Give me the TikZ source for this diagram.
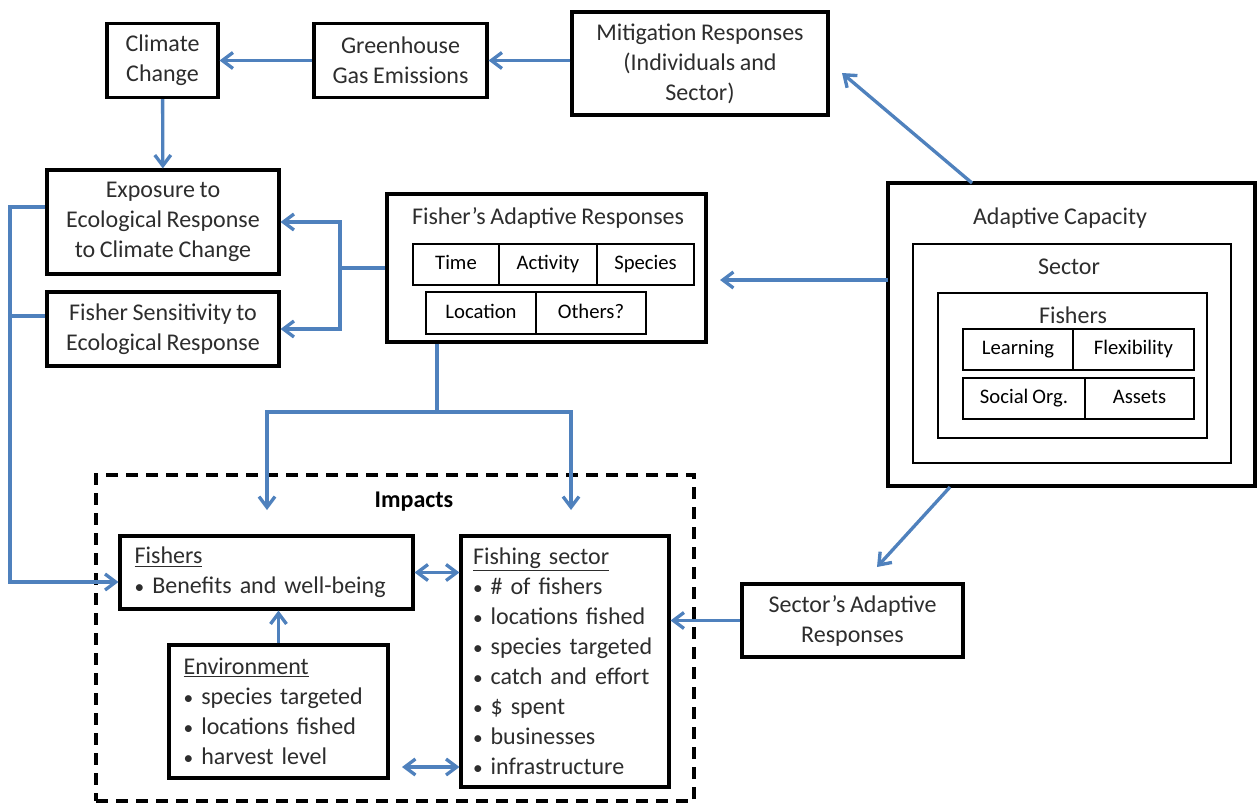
\documentclass[tikz,border=0pt]{standalone}
\usepackage{fontspec}
\setmainfont{Carlito}[WordSpace=0.85]
\usepackage{xcolor}
\usetikzlibrary{arrows.meta}
\definecolor{linkblue}{RGB}{79,129,189}
\definecolor{txtgray}{RGB}{45,45,45}
\newcommand{\itembul}{{\fontsize{14.5}{14.5}\selectfont\textbullet}\ }
\tikzset{
  mainbox/.style={draw=black,line width=2.3pt,align=center,inner sep=0pt,
    font=\fontsize{18}{22.5}\selectfont,text=txtgray},
  thinbox/.style={draw=black,line width=1.2pt,inner sep=0pt},
  cellbox/.style={thinbox,font=\fontsize{15.5}{18}\selectfont,text=black,
    text height=11pt,text depth=3pt},
  titletext/.style={inner sep=0pt,font=\fontsize{18}{22.5}\selectfont,text=txtgray},
  listbox/.style={mainbox,align=left,inner ysep=0pt},
  link/.style={draw=linkblue,line width=2.5pt,-{Straight Barb[length=8pt,width=12pt]}},
  link2/.style={link,{Straight Barb[length=8pt,width=12pt]}-{Straight Barb[length=8pt,width=12pt]}},
}
\begin{document}
\begin{tikzpicture}[x=0.75pt,y=0.75pt,yscale=-1,xscale=1]
\useasboundingbox (0,0) rectangle (1257,803);

%Shape: Rectangle top row
\node[mainbox,minimum width=83.25pt,minimum height=55.5pt] (clim) at (162.5,60.5) {Climate\\Change};
\node[mainbox,minimum width=129.75pt,minimum height=55.5pt] (ghg) at (400.5,60.5) {Greenhouse\\Gas Emissions};
\node[mainbox,minimum width=192pt,minimum height=77.25pt] (mitig) at (700,63.5) {Mitigation Responses\\(Individuals and\\Sector)};
%Shape: Rectangle left column
\node[mainbox,minimum width=174pt,minimum height=78pt] (expo) at (163,222) {Exposure to\\Ecological Response\\to Climate Change};
\node[mainbox,minimum width=174pt,minimum height=55.5pt] (sens) at (163,329) {Fisher Sensitivity to\\Ecological Response};

%Shape: Fisher's adaptive responses
\node[mainbox,minimum width=239.25pt,minimum height=111pt] (far) at (546.5,268) {};
\node[titletext] (fartitle) at (548,218) {Fisher’s Adaptive Responses};
\node[cellbox,minimum width=64.5pt,minimum height=30.75pt] (time) at (456,264.5) {Time};
\node[cellbox,minimum width=73.5pt,minimum height=30.75pt] (activity) at (548,264.5) {Activity};
\node[cellbox,minimum width=72.75pt,minimum height=30.75pt] (species) at (645.5,264.5) {Species};
\node[cellbox,minimum width=82.5pt,minimum height=31.5pt] (location) at (481,313) {Location};
\node[cellbox,minimum width=82.5pt,minimum height=31.5pt] (others) at (591,313) {Others?};

%Shape: Adaptive capacity
\node[mainbox,minimum width=275.25pt,minimum height=227.25pt] (cap) at (1071.5,334.5) {};
\node[titletext] (captitle) at (1060,218) {Adaptive Capacity};
\node[thinbox,minimum width=238.5pt,minimum height=164.25pt] (capsector) at (1072,353.5) {};
\node[titletext] (sectortitle) at (1069,267) {Sector};
\node[thinbox,minimum width=201.75pt,minimum height=108.75pt] (capfishers) at (1072.5,365.5) {};
\node[titletext] (fisherstitle) at (1073,315) {Fishers};
\node[cellbox,minimum width=82.5pt,minimum height=30.75pt] (learning) at (1018,349.5) {Learning};
\node[cellbox,minimum width=90.75pt,minimum height=30.75pt] (flexibility) at (1133.5,349.5) {Flexibility};
\node[cellbox,minimum width=91.5pt,minimum height=30.75pt] (socorg) at (1024,398.5) {Social Org.};
\node[cellbox,minimum width=81.75pt,minimum height=30.75pt] (assets) at (1139.5,398.5) {Assets};

%Shape: Sector's adaptive responses
\node[mainbox,minimum width=165.75pt,minimum height=54.75pt] (sar) at (852.5,620.5) {Sector’s Adaptive\\Responses};

%Shape: Impacts
\node[draw=black,line width=2.3pt,dash pattern=on 9pt off 6pt,minimum width=448.5pt,minimum height=244.5pt] (impacts) at (395,638) {};
\node[titletext,text=black,font=\fontsize{18}{22.5}\selectfont\bfseries] (impactstitle) at (414,502) {Impacts};
\node[listbox,text width=197.75pt,inner xsep=11pt,minimum height=54.75pt] (fishimp) at (266.5,572.5)
  {\underline{Fishers}\\\itembul Benefits and well-being};
\node[listbox,text width=138pt,inner xsep=9pt,minimum height=188.25pt] (fsector) at (565,661.5)
  {\underline{Fishing sector}\\\itembul \# of fishers\\\itembul locations fished\\\itembul species targeted\\\itembul catch and effort\\\itembul \$ spent\\\itembul businesses\\\itembul infrastructure};
\node[listbox,text width=142.25pt,inner xsep=11pt,minimum height=99.75pt] (env) at (278.5,711.5)
  {\underline{Environment}\\\itembul species targeted\\\itembul locations fished\\\itembul harvest level};

%Straight Lines
\draw[link] (ghg) -- (clim);
\draw[link] (mitig.west |- ghg) -- (ghg);
\draw[link] (clim) -- (expo);
\coordinate (fork) at (340,268);
\draw[link,-] (far.west) -- (fork);
\draw[link] (fork) |- (expo.east);
\draw[link] (fork) |- (sens.east);
\coordinate (lbus) at (10,207);
\coordinate (lmid) at (10,316);
\coordinate (lbot) at (10,582);
\draw[link] (lbus -| expo.west) -- (lbus) -- (lbot) -- (lbot -| fishimp.west);
\draw[link,-] (lmid -| sens.west) -- (lmid);
\coordinate (split) at (437,412);
\coordinate (dl) at (267,510);
\coordinate (dr) at (571,510);
\draw[link,-] (split |- far.south) -- (split);
\draw[link] (split) -| (dl);
\draw[link] (split) -| (dr);
\draw[link] (env.north) -- (env.north |- fishimp.south);
\draw[link2] (fishimp.east) -- (fishimp.east -| fsector.west);
\coordinate (envr) at (402,767);
\draw[link2] (envr) -- (envr -| fsector.west);
\draw[link] (sar.west) -- (sar.west -| fsector.east);
\coordinate (capw) at (888,280);
\coordinate (farr) at (720,280);
\draw[link] (capw) -- (farr);
\coordinate (capn) at (972,183);
\coordinate (mitarr) at (842,73);
\draw[link] (capn) -- (mitarr);
\coordinate (caps) at (950,487);
\coordinate (sararr) at (877,567);
\draw[link] (caps) -- (sararr);
\end{tikzpicture}
\end{document}
